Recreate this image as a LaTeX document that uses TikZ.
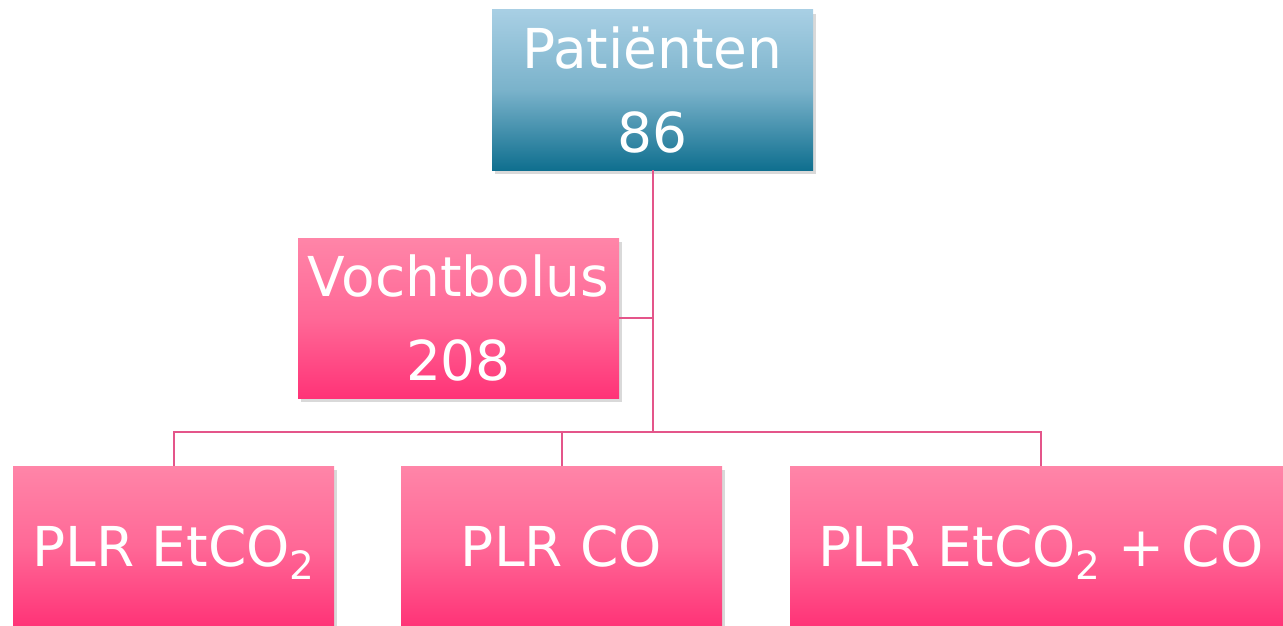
\documentclass[tikz,border=0pt]{standalone}
\usepackage{fontspec}
\setmainfont{DejaVu Sans}
\usetikzlibrary{shadows}
\definecolor{bluetop}{HTML}{A8CFE4}
\definecolor{bluebot}{HTML}{0F6F8F}
\definecolor{pinktop}{HTML}{FF85A8}
\definecolor{pinkbot}{HTML}{FF3377}
\definecolor{linecol}{HTML}{E4558A}
\newcommand{\subtwo}{\raisebox{-13pt}[0pt][0pt]{\fontsize{39}{39}\selectfont 2}}
\tikzset{
  box/.style={rectangle, minimum width=321pt, minimum height=160pt, inner sep=0pt,
    text=white, align=center, font=\fontsize{55}{84}\selectfont,
    drop shadow={shadow xshift=3pt, shadow yshift=-4pt, opacity=0.25, fill=black!60}},
  bluebox/.style={box, top color=bluetop, bottom color=bluebot, middle color=bluetop!70!bluebot},
  pinkbox/.style={box, top color=pinktop, bottom color=pinkbot, middle color=pinktop!65!pinkbot},
  conn/.style={draw=linecol, line width=2pt}
}
\begin{document}
\begin{tikzpicture}[x=1pt,y=-1pt]
\useasboundingbox (0,0) rectangle (1283,626);
\node[bluebox] (pat) at (652.5,90) {Patiënten\\86};
\node[pinkbox] (voc) at (458.5,318) {Vochtbolus\\208};
\node[pinkbox] (b1) at (173.5,546) {PLR EtCO\subtwo};
\node[pinkbox] (b2) at (561.5,546) {PLR CO};
\node[pinkbox, minimum width=502pt] (b3) at (1041,546) {PLR EtCO\subtwo{} + CO};
\coordinate (j) at (pat.south |- 0,432);
\draw[conn] (pat.south) -- (j);
\draw[conn] (voc.east) -- (voc.east -| pat.south);
\draw[conn] (j) -| (b1.north);
\draw[conn] (j) -| (b2.north);
\draw[conn] (j) -| (b3.north);
\end{tikzpicture}
\end{document}
